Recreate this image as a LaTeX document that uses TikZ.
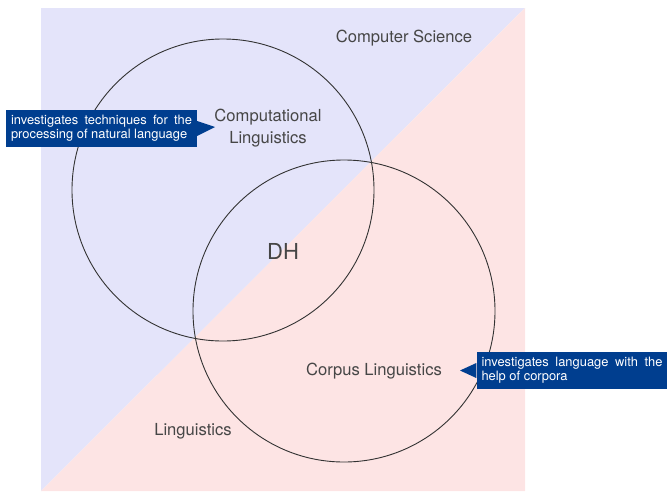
\documentclass[tikz,border=0pt]{standalone}
\usepackage{fontspec}
\setmainfont{TeX Gyre Heros}
\definecolor{bluebg}{RGB}{228,228,250}
\definecolor{pinkbg}{RGB}{253,228,228}
\definecolor{calloutblue}{RGB}{0,62,143}
\definecolor{txtgray}{RGB}{70,70,70}
\definecolor{linegray}{RGB}{50,50,50}
\begin{document}
\begin{tikzpicture}[x=1pt,y=-1pt,
  venn/.style={circle,draw=linegray,line width=0.9pt,minimum size=302pt,inner sep=0pt},
  lbl/.style={text=txtgray,font=\fontsize{16.6}{21.5}\selectfont,align=center,inner sep=0pt},
  callout/.style={fill=calloutblue,text=white,font=\fontsize{12.9}{14}\selectfont,
    align=justify,text width=181pt,inner xsep=5pt,minimum height=37pt,inner ysep=4pt},
  tip/.style={fill=calloutblue}]
\useasboundingbox (0,0) rectangle (667,491);
\fill[bluebg] (41,8) -- (525,8) -- (41,491) -- cycle;
\fill[pinkbg] (525,8) -- (525,491) -- (41,491) -- cycle;
\node[venn] (cl) at (223,190) {};
\node[venn] (corp) at (344,311) {};
\node[lbl] (cs) at (404,38) {Computer Science};
\node[lbl] (cln) at (268,128) {Computational\\Linguistics};
\node[lbl,font=\fontsize{22}{24}\selectfont] (dh) at (283,251) {DH};
\node[lbl] (cpl) at (374,371) {Corpus Linguistics};
\node[lbl] (ling) at (193,431) {Linguistics};
\node[callout] (c1) at (101.5,128.5) {investigates techniques for the processing of natural language};
\coordinate (t1) at (215,127);
\fill[tip] ([yshift=-7.5pt]c1.east) -- (t1) -- ([yshift=7.5pt]c1.east) -- cycle;
\node[callout] (c2) at (572,370.5) {investigates language with the help of corpora};
\coordinate (t2) at (460,370.5);
\fill[tip] ([yshift=-7.5pt]c2.west) -- (t2) -- ([yshift=7.5pt]c2.west) -- cycle;
\end{tikzpicture}
\end{document}
